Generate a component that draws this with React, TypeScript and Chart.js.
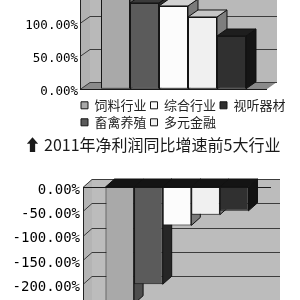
import React, { useEffect, useRef } from 'react';
import { Chart, registerables } from 'chart.js';

Chart.register(...registerables);

// ---------- data ----------
const topSeries = ['饲料行业', '畜禽养殖', '综合行业', '多元金融', '视听器材'];
const topValues = [180, 130, 125.5, 108.8, 80];
const legendOrder = ['饲料行业', '综合行业', '视听器材', '畜禽养殖', '多元金融'];
const titleText = '⬆ 2011年净利润同比增速前5大行业';
const bottomSeries = ['行业A', '行业B', '行业C', '行业D', '行业E'];
const bottomValues = [-240, -200, -79, -57, -49];
const topRange = [0, 200];
const bottomRange = [-250, 0];
const tickStep = 50;

// ---------- styles ----------
const frontColors = ['#a9a9a9', '#5b5b5b', '#fcfcfc', '#f0f0f0', '#303030'];
const topSideColors = ['#6a6a6a', '#2e2e2e', '#7a7a7a', '#7e7e7e', '#151515'];
const topTopColors = ['#8a8a8a', '#3a3a3a', '#d2d2d2', '#c6c6c6', '#1e1e1e'];
const bottomSideColors = ['#4e4e4e', '#262626', '#7a7a7a', '#7a7a7a', '#121212'];
const bottomTopColors = ['#141414', '#141414', '#141414', '#141414', '#141414'];

const fmt = (v: any) => Number(v).toFixed(2) + '%';

function poly(ctx: CanvasRenderingContext2D, pts: number[][], fill?: string, stroke?: string) {
  ctx.beginPath();
  ctx.moveTo(pts[0][0], pts[0][1]);
  for (let i = 1; i < pts.length; i++) ctx.lineTo(pts[i][0], pts[i][1]);
  ctx.closePath();
  if (fill) { ctx.fillStyle = fill; ctx.fill(); }
  if (stroke) { ctx.strokeStyle = stroke; ctx.lineWidth = 1; ctx.stroke(); }
}

function make3D(cfg: any) {
  const { dx, dy } = cfg;
  return {
    id: 'threeD',
    beforeDraw(chart: any) {
      const ctx = chart.ctx as CanvasRenderingContext2D;
      const a = chart.chartArea;
      const ys = chart.scales.y;
      const L = Math.round(a.left), R = Math.round(a.right), T = Math.round(a.top), B = Math.round(a.bottom);
      ctx.save();
      ctx.fillStyle = cfg.wall;
      ctx.fillRect(L + dx, T - dy, R - L, B - T);
      poly(ctx, [[L, T], [L + dx, T - dy], [L + dx, B - dy], [L, B]], cfg.sideWall);
      if (cfg.floor) poly(ctx, [[L, B], [R, B], [R + dx, B - dy], [L + dx, B - dy]], cfg.floor);
      ctx.strokeStyle = cfg.grid;
      ctx.lineWidth = 1;
      ctx.beginPath();
      ys.ticks.forEach((t: any) => {
        const py = Math.round(ys.getPixelForValue(t.value)) + 0.5;
        ctx.moveTo(L, py);
        ctx.lineTo(L + dx, py - dy);
        ctx.lineTo(R + dx, py - dy);
      });
      ctx.stroke();
      ctx.restore();
    },
    beforeDatasetsDraw(chart: any) {
      const ctx = chart.ctx as CanvasRenderingContext2D;
      const a = chart.chartArea;
      const ys = chart.scales.y;
      const y0 = Math.round(ys.getPixelForValue(0)) + 0.5;
      ctx.save();
      ctx.strokeStyle = '#1a1a1a';
      ctx.lineWidth = 1;
      ctx.beginPath();
      ctx.moveTo(a.left, y0);
      ctx.lineTo(a.right, y0);
      ctx.stroke();
      const els = chart.data.datasets.map((_: any, i: number) => chart.getDatasetMeta(i).data[0]);
      els.forEach((el: any, i: number) => {
        const x2 = el.x + el.width / 2;
        const top = Math.min(el.y, el.base);
        const bot = Math.max(el.y, el.base);
        poly(ctx, [[x2, top], [x2 + dx, top - dy], [x2 + dx, bot - dy], [x2, bot]], cfg.sides[i], '#111');
      });
      els.forEach((el: any, i: number) => {
        const x1 = el.x - el.width / 2;
        const x2 = el.x + el.width / 2;
        const top = Math.min(el.y, el.base);
        poly(ctx, [[x1, top], [x2, top], [x2 + dx, top - dy], [x1 + dx, top - dy]], cfg.tops[i], '#111');
      });
      ctx.restore();
    },
  };
}

function placeLegendTitle(canvasTop: number) {
  return {
    id: 'placeLegendTitle',
    afterLayout(chart: any) {
      const lg = chart.legend;
      if (lg) {
        lg.left = 77;
        lg.right = 300;
        lg.top = 94.8 - canvasTop;
        lg.bottom = lg.top + lg.height;
      }
      const tb = chart.titleBlock;
      if (tb) {
        tb.left = 0;
        tb.right = 305;
        tb.top = 135.4 - canvasTop;
        tb.bottom = tb.top + tb.height;
      }
    },
  };
}

const TOP_CANVAS_TOP = -60;
const BOTTOM_CANVAS_TOP = 170;

export default function App() {
  const topRef = useRef<HTMLCanvasElement>(null);
  const botRef = useRef<HTMLCanvasElement>(null);

  useEffect(() => {
    const top = new Chart(topRef.current as HTMLCanvasElement, {
      type: 'bar',
      data: {
        labels: [''],
        datasets: topSeries.map((name, i) => ({
          label: name,
          data: [topValues[i]],
          backgroundColor: frontColors[i],
          borderColor: '#151515',
          borderWidth: 1,
          borderSkipped: false,
          categoryPercentage: 0.7754,
          barPercentage: 1,
        })),
      },
      options: {
        responsive: false,
        animation: false,
        devicePixelRatio: 1,
        layout: { padding: { top: 16.8, bottom: 18, left: 0, right: 33 } },
        scales: {
          x: { display: false },
          y: {
            min: topRange[0],
            max: topRange[1],
            ticks: {
              stepSize: tickStep,
              callback: fmt,
              font: { family: "'DejaVu Sans Mono', monospace", size: 12.5 },
              color: '#000',
              padding: 2,
              labelOffset: 3,
            },
            grid: { display: false, drawTicks: false },
            border: { display: true, color: '#222', width: 1 },
            afterFit: (s: any) => { s.width = 80; },
          },
        },
        plugins: {
          legend: {
            position: 'bottom',
            align: 'start',
            labels: {
              sort: (a: any, b: any) => legendOrder.indexOf(a.text) - legendOrder.indexOf(b.text),
              boxWidth: 7,
              boxHeight: 7,
              padding: 4,
              color: '#222',
              font: { family: "'Noto Sans CJK SC', sans-serif", size: 13 },
            },
          },
          title: {
            display: true,
            position: 'bottom',
            text: titleText,
            color: '#1a1a1a',
            padding: 0,
            font: { family: "'Noto Sans CJK SC', 'DejaVu Sans', sans-serif", size: 16, weight: 'normal' },
          },
          tooltip: { enabled: false },
        },
      } as any,
      plugins: [
        make3D({ dx: 10, dy: 7, wall: '#b9b9b9', sideWall: '#b1b1b1', floor: '#8a8a8a', grid: '#3c3c3c', sides: topSideColors, tops: topTopColors }),
        placeLegendTitle(TOP_CANVAS_TOP),
      ],
    });

    const bottom = new Chart(botRef.current as HTMLCanvasElement, {
      type: 'bar',
      data: {
        labels: [''],
        datasets: bottomSeries.map((name, i) => ({
          label: name,
          data: [bottomValues[i]],
          backgroundColor: frontColors[i],
          borderColor: '#151515',
          borderWidth: 1,
          borderSkipped: false,
          categoryPercentage: 0.7606,
          barPercentage: 1,
        })),
      },
      options: {
        responsive: false,
        animation: false,
        devicePixelRatio: 1,
        layout: { padding: { top: 17, bottom: 0.5, left: 0, right: 29 } },
        scales: {
          x: { display: false },
          y: {
            min: bottomRange[0],
            max: bottomRange[1],
            ticks: {
              stepSize: tickStep,
              callback: fmt,
              font: { family: "'DejaVu Sans Mono', monospace", size: 14 },
              color: '#000',
              padding: 3,
              labelOffset: 3,
            },
            grid: { display: false, drawTicks: false },
            border: { display: true, color: '#222', width: 1 },
            afterFit: (s: any) => { s.width = 83; },
          },
        },
        plugins: {
          legend: { display: false },
          title: { display: false },
          tooltip: { enabled: false },
        },
      } as any,
      plugins: [
        make3D({ dx: 9, dy: 8, wall: '#bcbcbc', sideWall: '#b4b4b4', floor: null, grid: '#3c3c3c', sides: bottomSideColors, tops: bottomTopColors }),
      ],
    });

    return () => {
      top.destroy();
      bottom.destroy();
    };
  }, []);

  return (
    <div style={{ position: 'fixed', left: 0, top: 0, width: 300, height: 300, overflow: 'hidden', background: '#fff' }}>
      <canvas
        ref={topRef}
        width={300}
        height={230}
        style={{ position: 'absolute', left: 0, top: TOP_CANVAS_TOP, width: 300, height: 230 }}
      />
      <canvas
        ref={botRef}
        width={300}
        height={150}
        style={{ position: 'absolute', left: 0, top: BOTTOM_CANVAS_TOP, width: 300, height: 150 }}
      />
    </div>
  );
}
